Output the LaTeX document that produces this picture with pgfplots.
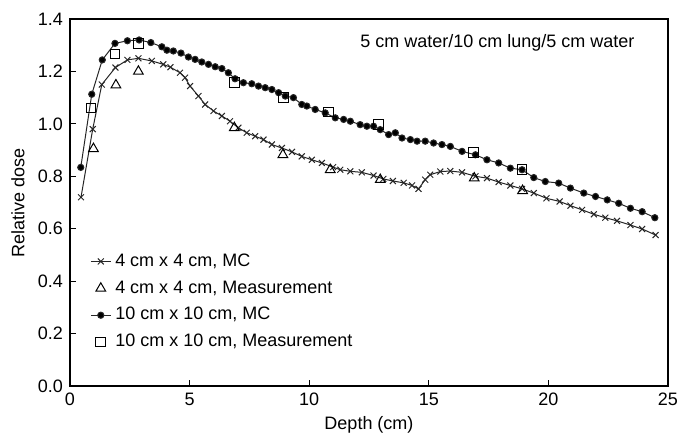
\documentclass[border=0pt]{standalone}
\usepackage{pgfplots}
\pgfplotsset{compat=1.18}
\usepackage{fontspec}
\setmainfont{Liberation Sans}

% Depth-dose curves: 5 cm water / 10 cm lung / 5 cm water phantom
\pgfplotstableread{
x y
0.46 0.720
0.95 0.980
1.33 1.150
1.90 1.215
2.40 1.244
2.86 1.250
3.42 1.240
3.90 1.227
4.20 1.216
4.60 1.195
4.81 1.176
5.02 1.144
5.37 1.106
5.65 1.074
6.00 1.049
6.35 1.030
6.69 1.010
7.04 0.985
7.39 0.966
7.74 0.953
8.09 0.940
8.44 0.921
8.86 0.908
9.28 0.893
9.69 0.876
10.11 0.863
10.53 0.851
11.00 0.835
11.30 0.825
11.72 0.819
12.20 0.815
12.69 0.803
13.10 0.790
13.50 0.782
13.95 0.775
14.30 0.765
14.57 0.752
14.85 0.787
15.06 0.806
15.48 0.818
15.90 0.820
16.39 0.815
16.95 0.800
17.43 0.793
17.92 0.778
18.41 0.765
18.90 0.752
19.39 0.736
19.92 0.716
20.47 0.704
20.92 0.688
21.41 0.672
21.90 0.655
22.38 0.642
22.87 0.630
23.43 0.614
23.92 0.599
24.48 0.576
}\mcsmall

\pgfplotstableread{
x y
0.45 0.834
0.91 1.113
1.35 1.244
1.88 1.307
2.40 1.317
2.89 1.320
3.38 1.310
3.84 1.294
4.05 1.281
4.32 1.278
4.64 1.270
4.95 1.255
5.23 1.246
5.51 1.236
5.79 1.227
6.07 1.218
6.35 1.211
6.62 1.195
6.90 1.172
7.25 1.157
7.60 1.153
7.88 1.144
8.16 1.138
8.44 1.131
8.72 1.119
9.00 1.106
9.34 1.100
9.69 1.074
9.90 1.068
10.25 1.055
10.67 1.042
11.09 1.023
11.44 1.017
11.72 1.010
12.13 0.997
12.41 0.991
12.69 0.991
12.97 0.978
13.32 0.959
13.60 0.966
13.88 0.946
14.23 0.940
14.51 0.934
14.85 0.934
15.20 0.927
15.55 0.921
15.90 0.914
16.39 0.895
16.95 0.882
17.43 0.863
17.92 0.851
18.41 0.831
18.90 0.825
19.39 0.795
19.87 0.780
20.43 0.774
20.92 0.755
21.48 0.736
21.97 0.723
22.46 0.710
22.94 0.697
23.43 0.678
23.92 0.665
24.45 0.642
}\mclarge

\pgfplotstableread{
x y
0.98 0.905
1.92 1.148
2.86 1.200
6.87 0.985
8.90 0.882
10.88 0.825
12.97 0.787
16.90 0.793
18.92 0.745
}\meassmall

\pgfplotstableread{
x y
0.88 1.060
1.88 1.267
2.86 1.306
6.87 1.157
8.93 1.100
10.80 1.045
12.90 0.997
16.87 0.890
18.90 0.825
}\measlarge

\begin{document}
\begin{tikzpicture}
\path[use as bounding box] (-35pt,-25pt) rectangle (303.5pt,193pt);
\begin{axis}[
  scale only axis,
  width=299pt, height=183.5pt,
  xmin=0, xmax=25, ymin=0, ymax=1.4,
  xtick={0,5,10,15,20,25},
  ytick={0,0.2,0.4,0.6,0.8,1.0,1.2,1.4},
  yticklabel style={/pgf/number format/fixed, /pgf/number format/fixed zerofill, /pgf/number format/precision=1},
  /pgf/number format/assume math mode=true,
  tick pos=left,
  tick align=inside,
  major tick length=3pt,
  axis line style={line width=0.6pt},
  every tick/.style={black, line width=0.5pt},
  font=\fontsize{9}{11}\selectfont,
  tick label style={font=\fontsize{9}{11}\selectfont},
  xlabel={Depth (cm)},
  ylabel={Relative dose},
  xlabel style={at={(axis description cs:0.5,0)}, anchor=center, yshift=-19.5pt},
  ylabel style={at={(axis description cs:0,0.5)}, anchor=center, xshift=0pt, yshift=26pt},
  legend image code/.code={\draw[mark repeat=2,mark phase=2,#1] plot coordinates {(0cm,0cm) (0.175cm,0cm) (0.35cm,0cm)};},
  legend style={draw=none, fill=none, at={(axis description cs:0.03,0.378)}, anchor=north west,
    font=\fontsize{9}{11}\selectfont, row sep=1.7pt, inner sep=1pt},
  legend cell align=left,
]
\addplot[black!85, line width=0.5pt, mark=x, mark size=2.1pt, mark options={solid, line width=0.5pt}] table[x=x,y=y] {\mcsmall};
\addlegendentry{4 cm x 4 cm, MC}
\addplot[black, only marks, mark=triangle, mark size=2.8pt, mark options={line width=0.5pt}] table[x=x,y=y] {\meassmall};
\addlegendentry{4 cm x 4 cm, Measurement}
\addplot[black!85, line width=0.5pt, mark=*, mark size=1.55pt, mark options={solid, fill=black}] table[x=x,y=y] {\mclarge};
\addlegendentry{10 cm x 10 cm, MC}
\addplot[black, only marks, mark=square, mark size=2.4pt, mark options={line width=0.5pt}] table[x=x,y=y] {\measlarge};
\addlegendentry{10 cm x 10 cm, Measurement}
\node[font=\fontsize{9}{11}\selectfont] at (axis cs:17.87,1.31) {5 cm water/10 cm lung/5 cm water};
\end{axis}
\end{tikzpicture}
\end{document}
